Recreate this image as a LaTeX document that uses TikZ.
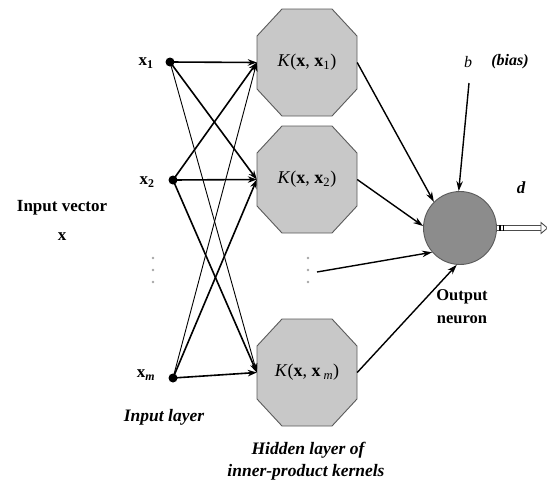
\documentclass[tikz,border=0pt]{standalone}
\usepackage{fontspec}
\setmainfont{Liberation Serif}
\usetikzlibrary{arrows.meta}
\definecolor{octfill}{RGB}{200,200,200}
\definecolor{octline}{RGB}{90,90,90}
\definecolor{neufill}{RGB}{140,140,140}
\begin{document}
\begin{tikzpicture}[x=1pt,y=-1pt,
  lbl/.style={font=\fontsize{17}{20}\selectfont\bfseries, align=center, inner sep=0},
  ilbl/.style={font=\fontsize{17.5}{20}\selectfont\bfseries\itshape, align=center, inner sep=0},
  xlbl/.style={font=\fontsize{17}{20}\selectfont\bfseries, inner sep=0},
  klbl/.style={font=\fontsize{18}{21}\selectfont, inner sep=0, minimum width=100pt, minimum height=107pt},
  indot/.style={circle, fill=black, inner sep=0, minimum size=9pt},
  vdot/.style={circle, fill=black!35, inner sep=0, minimum size=2.6pt},
  oct/.style={fill=octfill, draw=octline, line width=0.9pt},
  thk/.style={line width=1.6pt, -{Stealth[length=9pt,width=6.5pt]}},
  thn/.style={line width=0.9pt, -{Stealth[length=9pt,width=6pt]}},
  outarr/.style={line width=1.4pt, -{Stealth[length=10pt,width=6.5pt]}}
]
\useasboundingbox (0,0) rectangle (547,485);

% hidden octagons
\coordinate (c1) at (307,62.5);
\coordinate (c2) at (307,179.5);
\coordinate (c3) at (307,372.5);
\foreach \c in {c1,c2,c3}{
  \draw[oct] (\c) +(-50,-26.5) -- +(-25,-53.5) -- +(25,-53.5) -- +(50,-26.5)
     -- +(50,26.5) -- +(25,53.5) -- +(-25,53.5) -- +(-50,26.5) -- cycle;
}
\node[klbl] (K1) at (c1) {\textit{K}(\textbf{x}, \textbf{x}\textsubscript{1})};
\node[klbl] (K2) at (c2) {\textit{K}(\textbf{x}, \textbf{x}\textsubscript{2})};
\node[klbl] (K3) at (c3) {\textit{K}(\textbf{x}, \textbf{x}\,\textsubscript{\textit{m}})};

% input nodes
\node[indot] (i1) at (170,62) {};
\node[indot] (i2) at (173,180) {};
\node[indot] (i3) at (173,378) {};
\node[xlbl] (l1) at (146,63) {x\textsubscript{1}};
\node[xlbl] (l2) at (147,182) {x\textsubscript{2}};
\node[xlbl] (l3) at (146,375) {x\textsubscript{\textit{m}}};

% vertical dots
\node[vdot] (d1) at (153,258) {};
\node[vdot] (d2) at (153,270) {};
\node[vdot] (d3) at (153,282) {};
\node[vdot] (e1) at (308,258) {};
\node[vdot] (e2) at (308,270) {};
\node[vdot] (e3) at (308,282) {};
\coordinate (dstart) at (317,272);

% output neuron
\node[circle, fill=neufill, draw=octline, line width=0.9pt, minimum size=73pt, inner sep=0] (out) at (460,228) {};

% input -> hidden
\draw[thk] (i1.center) -- (K1.west);
\draw[thk] (i1.center) -- (K2.west);
\draw[thn] (i1.center) -- (K3.west);
\draw[thk] (i2.center) -- (K1.west);
\draw[thk] (i2.center) -- (K2.west);
\draw[thk] (i2.center) -- (K3.west);
\draw[thn] (i3.center) -- (K1.west);
\draw[thk] (i3.center) -- (K2.west);
\draw[thk] (i3.center) -- (K3.west);

% hidden -> output
\draw[outarr] (K1.east) -- (out.135);
\draw[outarr] (K2.east) -- (out.177);
\draw[outarr] (dstart) -- (out.221);
\draw[outarr] (K3.east) -- (out.265);

% bias
\node[inner sep=0, font=\fontsize{16}{19}\selectfont\itshape] (b) at (468,62) {b};
\node[ilbl, font=\fontsize{16}{19}\selectfont\bfseries\itshape] (bias) at (510,62) {(bias)};
\coordinate (bstart) at (469,83);
\draw[outarr] (bstart) -- (out.92);

% output d
\node[ilbl, font=\fontsize{17}{20}\selectfont\bfseries\itshape] (d) at (521,188) {d};
\coordinate (dend) at (541,228);
\draw[double=white, double distance=3.6pt, line width=0.9pt, draw=black!70] (out.east) -- (dend);
\draw[black!70, line width=0.9pt, fill=white] (dend) +(0,-5.5) -- +(6.5,0) -- +(0,5.5) -- cycle;
\draw[line width=1.6pt] ([xshift=3pt,yshift=-2.6pt]out.east) -- ([xshift=3pt,yshift=2.6pt]out.east);
\draw[line width=1.6pt] ([xshift=6.5pt,yshift=-2.6pt]out.east) -- ([xshift=6.5pt,yshift=2.6pt]out.east);

% labels
\node[lbl] (iv) at (62,208) {Input vector};
\node[lbl] (ix) at (62,237) {x};
\node[ilbl] (il) at (164,417) {Input layer};
\node[ilbl] (hl) at (308,450) {Hidden layer of};
\node[ilbl] (hl2) at (306,472) {inner-product kernels};
\node[lbl, font=\fontsize{16.5}{19}\selectfont\bfseries] (on) at (462,297) {Output};
\node[lbl, font=\fontsize{16.5}{19}\selectfont\bfseries] (on2) at (462,320) {neuron};
\end{tikzpicture}
\end{document}
